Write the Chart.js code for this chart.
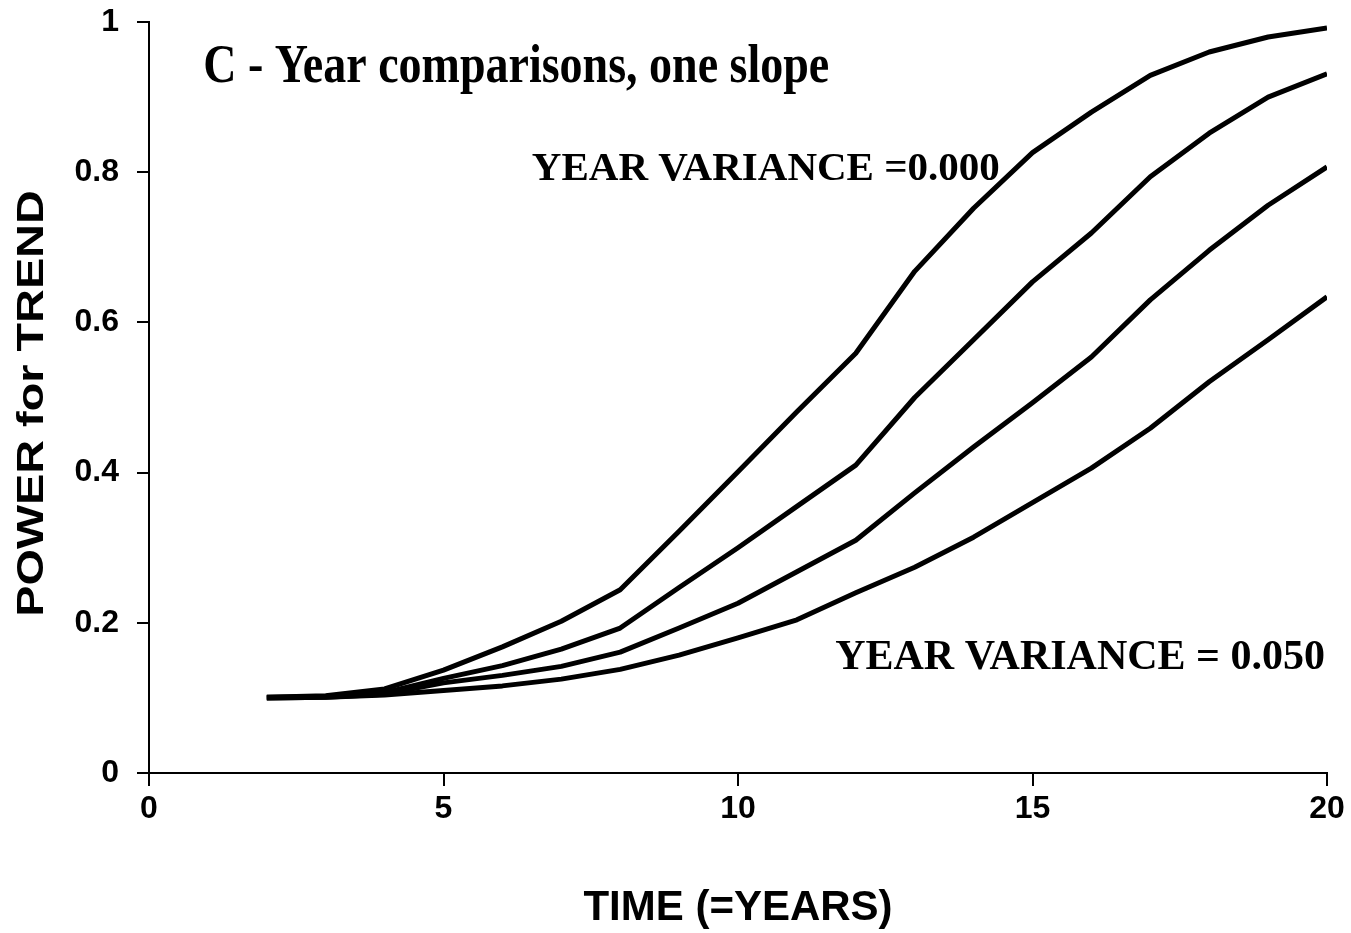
<!DOCTYPE html>
<html>
<head>
<meta charset="utf-8">
<title>Power for trend</title>
<script src="https://cdn.jsdelivr.net/npm/chart.js@4.4.1/dist/chart.umd.min.js"></script>
<style>
  html, body { margin: 0; padding: 0; background: #fff; }
  #wrap { width: 1351px; height: 933px; }
</style>
</head>
<body>
<div id="wrap"><canvas id="powerChart" width="1351" height="933"></canvas></div>
<script>
// years of sampling
const years = [2, 3, 4, 5, 6, 7, 8, 9, 10, 11, 12, 13, 14, 15, 16, 17, 18, 19, 20];

// power curves, from year variance 0.000 (top) down to 0.050 (bottom)
const powerVar000 = [0.101, 0.103, 0.112, 0.137, 0.168, 0.202, 0.244, 0.322, 0.401, 0.481, 0.559, 0.668, 0.752, 0.826, 0.880, 0.929, 0.960, 0.980, 0.992];
const powerVarA   = [0.101, 0.102, 0.107, 0.126, 0.143, 0.165, 0.193, 0.247, 0.300, 0.355, 0.410, 0.500, 0.577, 0.654, 0.719, 0.794, 0.852, 0.900, 0.931];
const powerVarB   = [0.100, 0.101, 0.105, 0.120, 0.130, 0.142, 0.161, 0.193, 0.226, 0.268, 0.310, 0.373, 0.434, 0.493, 0.554, 0.630, 0.696, 0.756, 0.807];
const powerVar050 = [0.100, 0.101, 0.104, 0.110, 0.116, 0.125, 0.138, 0.157, 0.180, 0.204, 0.240, 0.274, 0.314, 0.360, 0.406, 0.459, 0.521, 0.577, 0.634];

// axis ticks
const xTickValues = [0, 5, 10, 15, 20];
const yTickValues = [0, 0.2, 0.4, 0.6, 0.8, 1];
const yTickLabels = ["0", "0.2", "0.4", "0.6", "0.8", "1"];

const xTitle = "TIME (=YEARS)";
const yTitle = "POWER for TREND";
const panelTitle = "C - Year comparisons, one slope";
const topNote = "YEAR VARIANCE =0.000";
const bottomNote = "YEAR VARIANCE = 0.050";

const sansBold = "bold {s}px 'Liberation Sans', Arial, sans-serif";
const serifBold = "bold {s}px 'Liberation Serif', 'Times New Roman', serif";
const font = (tpl, s) => tpl.replace("{s}", s);

function toPoints(values) {
    return years.map((yr, i) => ({ x: yr, y: values[i] }));
}

function makeSet(values) {
    return {
        data: toPoints(values),
        borderColor: "#000",
        borderWidth: 5,
        pointRadius: 0,
        fill: false,
        tension: 0,
        borderJoinStyle: "round"
    };
}

/* ===== text drawn behind the curves ===== */
const notesPlugin = {
    id: "notes",
    beforeDatasetsDraw(chart) {
        const { ctx, scales: { x, y } } = chart;
        ctx.save();
        ctx.fillStyle = "#000";
        ctx.textBaseline = "alphabetic";
        ctx.textAlign = "left";

        // panel title, drawn a little taller than wide
        ctx.save();
        ctx.translate(x.getPixelForValue(0.92), y.getPixelForValue(0.92));
        ctx.scale(1, 1.2);
        ctx.font = font(serifBold, 46);
        ctx.fillText(panelTitle, 0, 0);
        ctx.restore();

        ctx.font = font(serifBold, 41);
        ctx.fillText(topNote, x.getPixelForValue(6.5), y.getPixelForValue(0.79));
        ctx.font = font(serifBold, 42);
        ctx.fillText(bottomNote, x.getPixelForValue(11.65), y.getPixelForValue(0.138));
        ctx.restore();
    },
    afterDraw(chart) {
        const { ctx, chartArea, scales: { y } } = chart;
        ctx.save();
        ctx.fillStyle = "#000";
        ctx.textAlign = "center";
        ctx.textBaseline = "alphabetic";

        // x axis title
        ctx.font = font(sansBold, 42);
        ctx.fillText(xTitle, (chartArea.left + chartArea.right) / 2, 920);

        // y axis title, rotated and stretched along its baseline
        ctx.save();
        ctx.translate(43, (y.top + y.bottom) / 2 + 6);
        ctx.rotate(-Math.PI / 2);
        ctx.scale(1.3, 1);
        ctx.font = font(sansBold, 36);
        ctx.fillText(yTitle, 0, 0);
        ctx.restore();

        ctx.restore();
    }
};

new Chart(document.getElementById("powerChart"), {
    type: "line",
    data: {
        datasets: [
            makeSet(powerVar000),
            makeSet(powerVarA),
            makeSet(powerVarB),
            makeSet(powerVar050)
        ]
    },
    options: {
        responsive: false,
        animation: false,
        layout: { padding: { top: 22, right: 24, left: 0, bottom: 0 } },
        plugins: {
            legend: { display: false },
            tooltip: { enabled: false }
        },
        scales: {
            x: {
                type: "linear",
                min: 0,
                max: 20,
                afterFit(scale) {
                    scale.height = 160;
                    scale.paddingLeft = 0;
                    scale.paddingRight = 0;
                },
                afterBuildTicks(scale) { scale.ticks = xTickValues.map(v => ({ value: v })); },
                border: { display: true, color: "#000", width: 2 },
                grid: { display: true, drawOnChartArea: false, drawTicks: true, tickLength: 13, color: "#000", lineWidth: 2 },
                ticks: {
                    color: "#000",
                    padding: 4,
                    maxRotation: 0,
                    font: { family: "'Liberation Sans', Arial, sans-serif", size: 32, weight: "bold" },
                    callback: v => String(v)
                },
                title: { display: false }
            },
            y: {
                type: "linear",
                min: 0,
                max: 1,
                afterFit(scale) {
                    scale.width = 149;
                    scale.paddingTop = 0;
                    scale.paddingBottom = 0;
                },
                afterBuildTicks(scale) { scale.ticks = yTickValues.map(v => ({ value: v })); },
                border: { display: true, color: "#000", width: 2 },
                grid: { display: true, drawOnChartArea: false, drawTicks: true, tickLength: 12, color: "#000", lineWidth: 2 },
                ticks: {
                    color: "#000",
                    padding: 18,
                    font: { family: "'Liberation Sans', Arial, sans-serif", size: 32, weight: "bold" },
                    callback: v => yTickLabels[yTickValues.indexOf(v)] ?? String(v)
                },
                title: { display: false }
            }
        }
    },
    plugins: [notesPlugin]
});
</script>
</body>
</html>
